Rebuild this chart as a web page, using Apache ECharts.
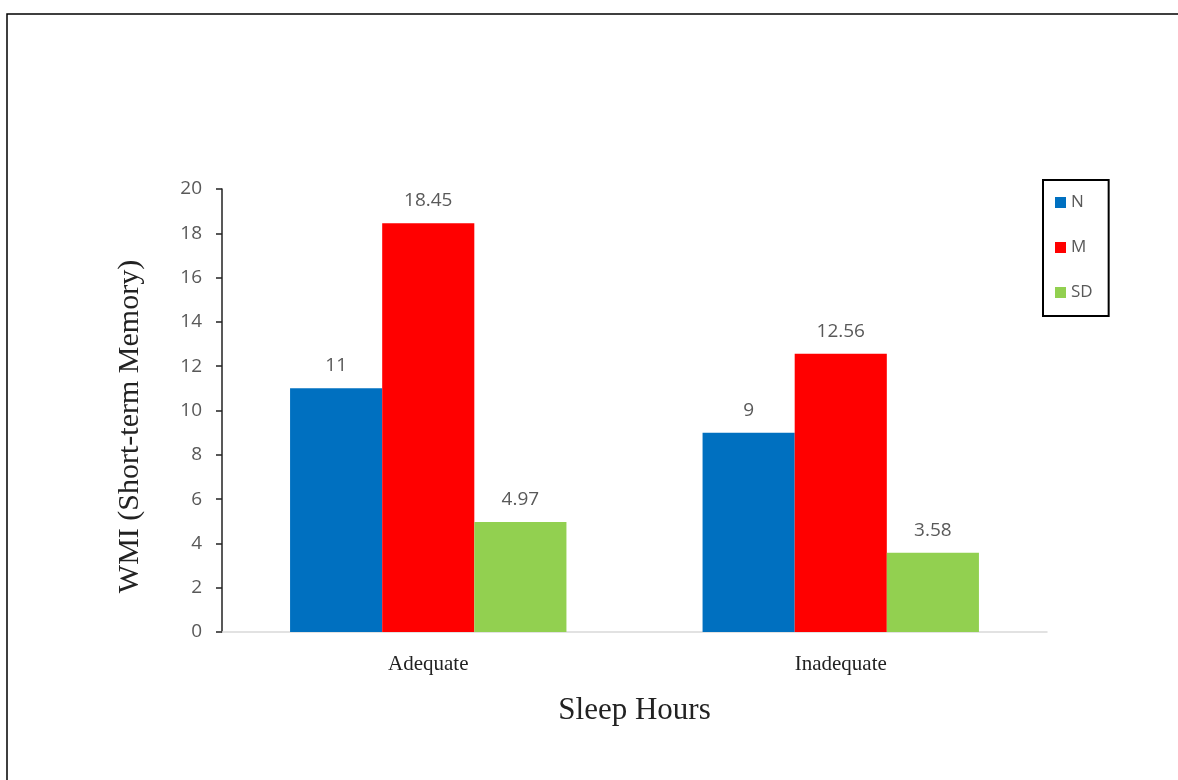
<!DOCTYPE html>
<html>
<head>
<meta charset="utf-8">
<script src="https://cdn.jsdelivr.net/npm/echarts@6/dist/echarts.min.js"></script>
<style>html,body{margin:0;padding:0;background:#fff;}#c{width:1178px;height:780px;}</style>
</head>
<body>
<div id="c"></div>
<script>
const categories = ['Adequate', 'Inadequate'];
const seriesNames = ['N', 'M', 'SD'];
const valuesN = [11, 9];
const valuesM = [18.45, 12.56];
const valuesSD = [4.97, 3.58];
const yTicks = [0, 2, 4, 6, 8, 10, 12, 14, 16, 18, 20];
const colors = ['#0070C0', '#FF0000', '#92D050'];

const chart = echarts.init(document.getElementById('c'));
const sans = 'Open Sans, Liberation Sans, sans-serif';
const serif = 'Liberation Serif, serif';
const labelStyle = {show: true, position: 'top', distance: 13, color: '#595959', fontSize: 19, fontFamily: sans};
const mk = (name, data, color) => ({
  name, type: 'bar', data, itemStyle: {color}, barGap: '0%', barCategoryGap: '33%', label: labelStyle
});
chart.setOption({
  animation: false,
  backgroundColor: '#fff',
  grid: {left: 222, right: 131, top: 189, bottom: 148},
  legend: {
    orient: 'vertical', left: 1043, top: 180,
    data: seriesNames,
    itemWidth: 11, itemHeight: 11, itemGap: 28,
    padding: [14, 16, 15, 12],
    borderColor: '#000', borderWidth: 2,
    icon: 'rect',
    textStyle: {color: '#595959', fontSize: 17, fontFamily: sans}
  },
  xAxis: {
    type: 'category', data: categories,
    name: 'Sleep Hours', nameLocation: 'middle', nameGap: 63,
    nameTextStyle: {fontFamily: serif, fontSize: 31, color: '#222'},
    axisLine: {lineStyle: {color: '#d9d9d9', width: 1.5}},
    axisTick: {show: false},
    axisLabel: {fontFamily: serif, fontSize: 21, color: '#222', margin: 22}
  },
  yAxis: {
    type: 'value', min: yTicks[0], max: yTicks[yTicks.length - 1], interval: 2,
    name: 'WMI (Short-term Memory)', nameLocation: 'middle', nameGap: 77,
    nameTextStyle: {fontFamily: serif, fontSize: 30, color: '#222', padding: [0, 32, 0, 0]},
    axisLine: {show: true, lineStyle: {color: '#222', width: 1.5}},
    axisTick: {show: true, length: 6, lineStyle: {color: '#222', width: 1.5}},
    splitLine: {show: false},
    axisLabel: {fontFamily: sans, fontSize: 19, color: '#595959', margin: 20}
  },
  series: [mk(seriesNames[0], valuesN, colors[0]), mk(seriesNames[1], valuesM, colors[1]), mk(seriesNames[2], valuesSD, colors[2])],
  graphic: [
    {type: 'polyline', shape: {points: [[7, 780], [7, 14], [1178, 14]]}, style: {stroke: '#000', lineWidth: 1.5, fill: null}, silent: true}
  ]
});
</script>
</body>
</html>
